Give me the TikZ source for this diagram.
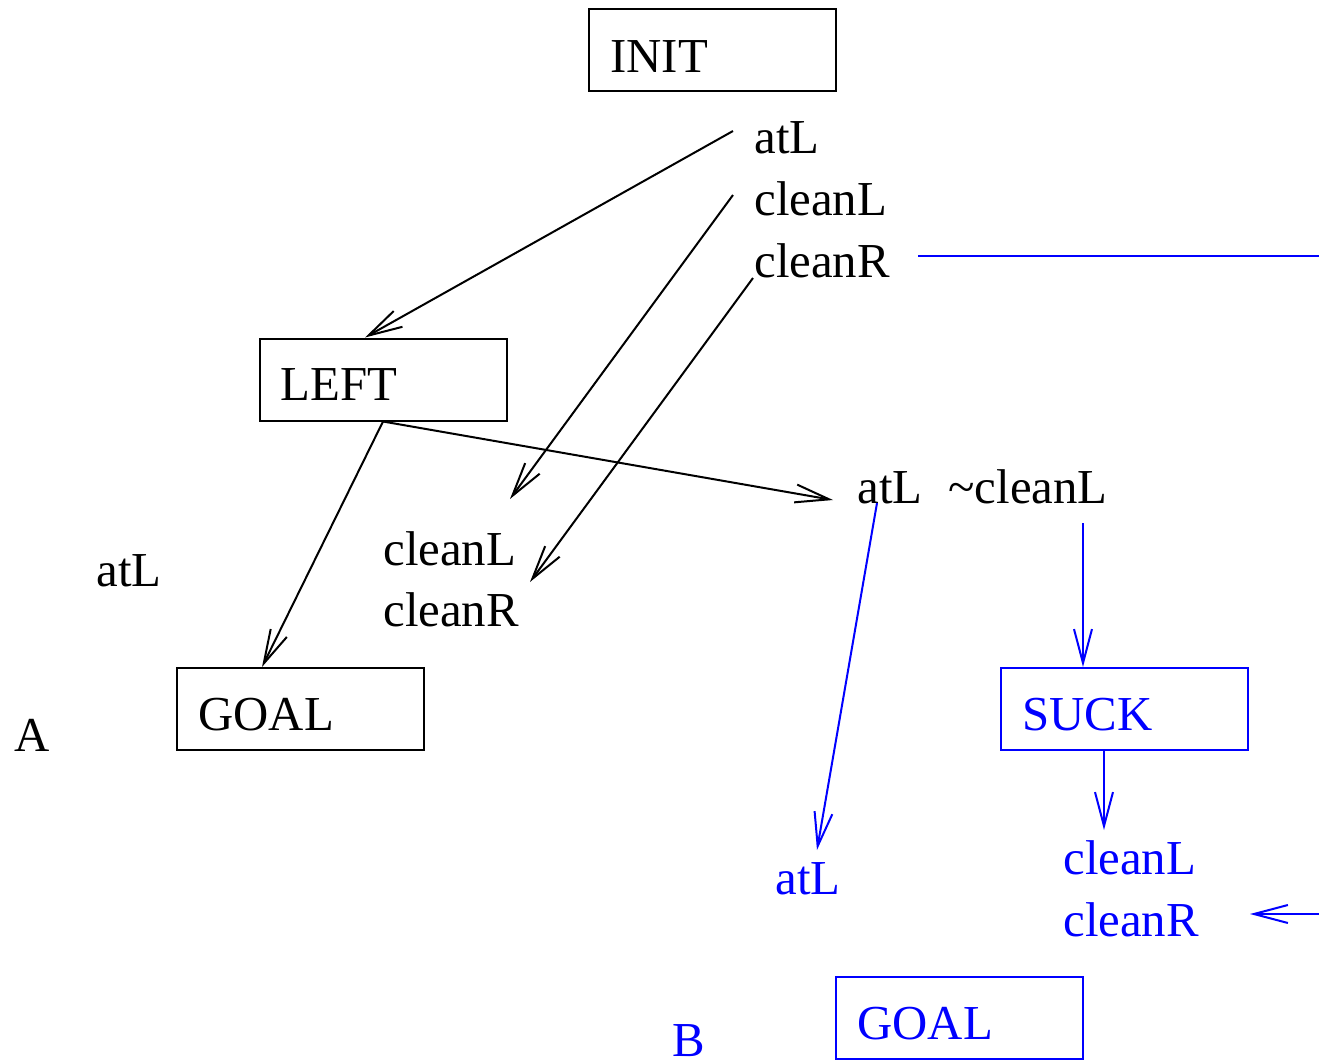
\documentclass[tikz,border=0pt]{standalone}
\usepackage{fontspec}
\setmainfont{Liberation Serif}
\usetikzlibrary{arrows.meta,calc}
\begin{document}
\begin{tikzpicture}[x=0.5pt,y=-0.5pt,
  every node/.style={font=\fontsize{24.4}{28}\selectfont, inner sep=0pt},
  lbl/.style={anchor=base west},
  box/.style={draw, line width=1pt, minimum width=123.5pt, minimum height=41pt},
  conn/.style={line width=1pt, -{Straight Barb[length=17pt,width=9pt,line width=1pt]}},
  ink/.style={blue}]
\useasboundingbox (0,0) rectangle (1319,1061);

% ---- boxes ----
\node[box] (init) at (712.5,50) {};
\node[lbl] (initT) at (610,72) {INIT};
\node[box] (left) at (383,379.5) {};
\node[lbl] (leftT) at (280,400) {LEFT};
\node[box] (goalA) at (300.5,709) {};
\node[lbl] (goalAT) at (198,730) {GOAL};
\node[box, ink] (suck) at (1124.5,709) {};
\node[lbl, ink] (suckT) at (1022,730) {SUCK};
\node[box, ink] (goalB) at (959.5,1017.5) {};
\node[lbl, ink] (goalBT) at (857,1039) {GOAL};

% ---- condition labels ----
\node[lbl] (pAtL) at (754,153) {atL};
\node[lbl] (pCleanL) at (754,215) {cleanL};
\node[lbl] (pCleanR) at (754,277) {cleanR};
\node[lbl] (qCleanL) at (383,565) {cleanL};
\node[lbl] (qCleanR) at (383,626) {cleanR};
\node[lbl] (rAtL) at (96,586) {atL};
\node[lbl] (sAtL) at (857,503) {atL};
\node[lbl] (sNotCleanL) at (948,503) {\textasciitilde cleanL};
\node[lbl] (labA) at (14,751) {A};
\node[lbl, ink] (tAtL) at (775,894) {atL};
\node[lbl, ink] (tCleanL) at (1063,874) {cleanL};
\node[lbl, ink] (tCleanR) at (1063,936) {cleanR};
\node[lbl, ink] (labB) at (672,1056) {B};

% ---- free connector ends ----
\coordinate (c1) at (733,131);
\coordinate (c2) at (733,195);
\coordinate (c3) at (753,278);
\coordinate (c2e) at (510,499);
\coordinate (c3e) at (530,582);
\coordinate (c4e) at (833,500);
\coordinate (c6s) at (877,503);
\coordinate (c6e) at (817,850);
\coordinate (c7s) at (1083,523);
\coordinate (c8e) at (1104,830);
\coordinate (c9s) at (1319,914);
\coordinate (c9e) at (1250,914);
\coordinate (c10s) at (918,256);
\coordinate (c10e) at (1319,256);

% ---- black connectors ----
\draw[conn] (c1) -- ([xshift=-9pt]left.north);
\draw[conn] (c2) -- (c2e);
\draw[conn] (c3) -- (c3e);
\draw[conn] (left.south) -- (c4e);
\draw[conn] (left.south) -- ([xshift=-19.25pt]goalA.north);

% ---- blue connectors ----
\draw[conn, ink] (c6s) -- (c6e);
\draw[conn, ink] (c7s) -- ([xshift=-20.75pt]suck.north);
\draw[conn, ink] ([xshift=-10.25pt]suck.south) -- (c8e);
\draw[conn, ink] (c9s) -- (c9e);
\draw[line width=1pt, ink] (c10s) -- (c10e);
\end{tikzpicture}
\end{document}
